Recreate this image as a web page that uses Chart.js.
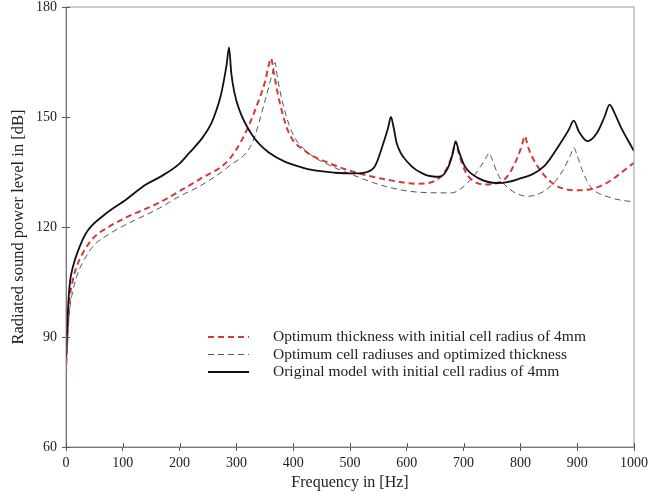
<!DOCTYPE html>
<html>
<head>
    <title>Radiated sound power level</title>
    <script src="https://cdn.jsdelivr.net/npm/chart.js"></script>
    <style>
        html, body {
            margin: 0;
            padding: 0;
            background: #fff;
        }
        #wrap {
            width: 652px;
            height: 497px;
        }
    </style>
</head>
<body>
    <div id="wrap">
        <canvas id="powerChart" width="652" height="497"></canvas>
    </div>
    <script>
        // values
        const seriesLabels = [
            'Optimum thickness with initial cell radius of 4mm',
            'Optimum cell radiuses and optimized thickness',
            'Original model with initial cell radius of 4mm'
        ];

        const thicknessFreq = [0, 3, 7, 12, 19, 30, 48, 75, 106, 165, 200, 235, 287, 316, 340, 351, 356, 361, 366, 375, 392, 421, 462, 503, 562, 620, 661, 675, 682, 686, 690, 698, 708, 737, 772, 795, 803, 808, 813, 830, 865, 906, 947, 1000];
        const thicknessLevel = [80, 92, 101, 105.5, 109.3, 113, 117, 120, 122.6, 126.7, 129.8, 133, 138.4, 145.7, 154.8, 160, 163.5, 166, 162, 154.8, 145.8, 140.7, 137.5, 135.2, 133, 131.8, 133.9, 137.5, 141, 143.4, 141, 137, 133.9, 131.6, 133, 139, 142.5, 144.8, 142, 136.6, 131.1, 130, 131.6, 137.5];

        const radiusFreq = [0, 3, 7, 12, 19, 30, 48, 75, 106, 165, 200, 235, 287, 328, 351, 360, 365, 368, 372, 380, 398, 427, 462, 503, 562, 620, 678, 713, 730, 740, 745, 750, 760, 772, 813, 853, 875, 888, 894, 900, 910, 923, 959, 1000];
        const radiusLevel = [79, 90, 98, 102.5, 106.6, 110.5, 114.8, 118, 120.7, 125.2, 128.4, 131.1, 136.6, 143, 154.8, 160, 163, 164.8, 161, 154.8, 145.8, 140.2, 137, 134.3, 131.1, 129.5, 129.3, 133, 136.5, 139, 140.2, 138.5, 134.5, 131.6, 128.4, 131.1, 135.5, 139.5, 141.6, 139.5, 135, 131.1, 128, 126.8];

        const originalFreq = [0, 2, 4, 7, 12, 20, 36, 65, 106, 140, 165, 200, 217, 240, 255, 264, 272, 278, 283, 287, 291, 296, 305, 328, 357, 416, 474, 509, 530, 544, 559, 567, 572, 577, 582, 602, 632, 658, 672, 680, 686, 692, 702, 725, 760, 795, 842, 871, 885, 894, 903, 918, 935, 948, 957, 966, 976, 1000];
        const originalLevel = [84, 92, 99, 105, 109, 113, 118.5, 123, 127.5, 131.5, 133.6, 137.3, 140.2, 144.3, 148, 151.5, 155.5, 160, 164.5, 169, 162, 157, 152, 145, 140.3, 136.2, 134.8, 134.6, 135, 136.6, 143, 147, 150, 147, 143, 137.6, 134.3, 133.7, 136, 139.5, 143.2, 140.5, 136.6, 133.4, 132, 133, 136.6, 143, 146.5, 149, 146, 143.4, 145.7, 150, 153.4, 151, 147.5, 140.7];

        const xTicks = [0, 100, 200, 300, 400, 500, 600, 700, 800, 900, 1000];
        const yTicks = [60, 90, 120, 150, 180];

        const toPoints = (xs, ys) => xs.map((x, i) => ({ x: x, y: ys[i] }));

        const serif = '"Liberation Serif", "DejaVu Serif", serif';

        // frame, inner tick stubs and the legend inside the plot area
        const frameAndLegend = {
            id: 'frameAndLegend',
            afterDatasetsDraw(chart) {
                const ctx = chart.ctx;
                const a = chart.chartArea;
                ctx.save();
                ctx.strokeStyle = '#999';
                ctx.lineWidth = 1;
                ctx.strokeRect(a.left, a.top, a.right - a.left, a.bottom - a.top);

                ctx.strokeStyle = '#555';
                ctx.beginPath();
                xTicks.forEach(v => {
                    const px = Math.round(chart.scales.x.getPixelForValue(v)) + 0.5;
                    ctx.moveTo(px, a.bottom);
                    ctx.lineTo(px, a.bottom - 4);
                });
                yTicks.forEach(v => {
                    const py = Math.round(chart.scales.y.getPixelForValue(v)) + 0.5;
                    ctx.moveTo(a.left, py);
                    ctx.lineTo(a.left + 4, py);
                });
                ctx.stroke();

                const rowY = [337, 354.5, 372];
                ctx.font = '15.5px ' + serif;
                ctx.textBaseline = 'middle';
                ctx.fillStyle = '#222';
                chart.data.datasets.forEach((ds, i) => {
                    ctx.beginPath();
                    ctx.strokeStyle = ds.borderColor;
                    ctx.lineWidth = ds.borderWidth;
                    ctx.setLineDash(ds.borderDash || []);
                    ctx.moveTo(208, rowY[i]);
                    ctx.lineTo(249, rowY[i]);
                    ctx.stroke();
                    ctx.setLineDash([]);
                    ctx.fillText(ds.label, 273, rowY[i]);
                });
                ctx.restore();
            }
        };

        const ctx = document.getElementById('powerChart').getContext('2d');
        const chart = new Chart(ctx, {
            type: 'line',
            data: {
                datasets: [{
                    label: seriesLabels[0],
                    data: toPoints(thicknessFreq, thicknessLevel),
                    borderColor: '#d23a3a',
                    borderWidth: 2,
                    borderDash: [6, 4],
                    order: 2
                }, {
                    label: seriesLabels[1],
                    data: toPoints(radiusFreq, radiusLevel),
                    borderColor: '#555',
                    borderWidth: 1,
                    borderDash: [6, 4],
                    order: 3
                }, {
                    label: seriesLabels[2],
                    data: toPoints(originalFreq, originalLevel),
                    borderColor: '#111',
                    borderWidth: 1.8,
                    order: 1
                }]
            },
            options: {
                responsive: false,
                animation: false,
                events: [],
                layout: {
                    padding: { top: 0, right: 15, left: 0, bottom: 0 }
                },
                elements: {
                    point: { radius: 0 },
                    line: { fill: false, cubicInterpolationMode: 'monotone' }
                },
                plugins: {
                    legend: { display: false },
                    tooltip: { enabled: false }
                },
                scales: {
                    x: {
                        type: 'linear',
                        min: 0,
                        max: 1000,
                        afterBuildTicks: s => { s.ticks = xTicks.map(v => ({ value: v })); },
                        afterFit: s => { s.height = 50; },
                        border: { color: '#555', width: 1 },
                        grid: { drawOnChartArea: false, drawTicks: true, tickLength: 4, color: '#555' },
                        ticks: {
                            color: '#222',
                            padding: 4,
                            maxRotation: 0,
                            autoSkip: false,
                            callback: v => String(v),
                            font: { family: serif, size: 14 }
                        },
                        title: {
                            display: true,
                            text: 'Frequency in [Hz]',
                            color: '#222',
                            padding: { top: 0, bottom: 5 },
                            font: { family: serif, size: 16 }
                        }
                    },
                    y: {
                        min: 60,
                        max: 180,
                        afterBuildTicks: s => { s.ticks = yTicks.map(v => ({ value: v })); },
                        afterFit: s => {
                            s.width = 66;
                            s.paddingTop = 7;
                            s.paddingBottom = 0;
                        },
                        border: { color: '#555', width: 1 },
                        grid: { drawOnChartArea: false, drawTicks: true, tickLength: 4, color: '#555' },
                        ticks: {
                            color: '#222',
                            padding: 5,
                            callback: v => String(v),
                            font: { family: serif, size: 14 }
                        },
                        title: {
                            display: true,
                            text: 'Radiated sound power level in [dB]',
                            color: '#222',
                            padding: { top: 9, bottom: 0 },
                            font: { family: serif, size: 16.5 }
                        }
                    }
                }
            },
            plugins: [frameAndLegend]
        });
    </script>
</body>
</html>
